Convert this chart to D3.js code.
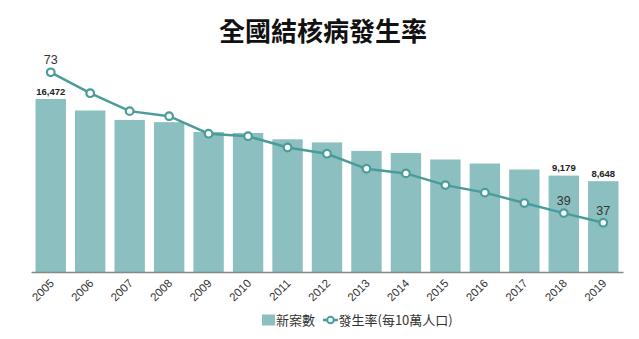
<!DOCTYPE html>
<html><head><meta charset="utf-8">
<script src="https://cdn.jsdelivr.net/npm/d3@7"></script>
<style>
html,body{margin:0;padding:0;background:#fff;}
svg{display:block;}
</style></head>
<body>
<svg id="chart" width="639" height="339"></svg>
<script>
const years = ["2005","2006","2007","2008","2009","2010","2011","2012","2013","2014","2015","2016","2017","2018","2019"];
const newCases = [16472,15378,14480,14265,13336,13237,12634,12338,11528,11326,10711,10328,9759,9179,8648];
const incidence = [73,68,63.7,62.5,58.3,57.7,55,53.5,49.9,48.8,46,44.2,41.7,39.3,37];
const caseLabelYears = ["2005","2018","2019"];
const rateLabelYears = ["2005","2018","2019"];
const title = "全國結核病發生率";
const legendLabels = ["新案數","發生率(每10萬人口)"];

const barColor = "#8bbfc0", lineColor = "#4a9c9b";
const svg = d3.select("#chart");
const cjk = "'Noto Sans CJK TC','Noto Sans CJK SC',sans-serif";
const latin = "'Liberation Sans',Arial,sans-serif";

const x = d3.scaleBand().domain(years).range([31, 623]).paddingInner(0.23).paddingOuter(0.115);
const y = d3.scaleLinear().domain([0, 18000]).range([272, 272 - 18000 * 173 / 16472]);
const yr = d3.scaleLinear().domain([30, 80]).range([72.3 + 43 * 4.178, 72.3 - 7 * 4.178]);

svg.append("text").attr("x", 323).attr("y", 41).attr("text-anchor", "middle")
  .attr("font-family", cjk).attr("font-weight", 700).attr("font-size", 26).attr("fill", "#111").text(title);

svg.append("g").selectAll("rect").data(years).join("rect")
  .attr("x", d => x(d)).attr("width", x.bandwidth())
  .attr("y", (d, i) => y(newCases[i])).attr("height", (d, i) => y(0) - y(newCases[i]))
  .attr("fill", barColor);

const xAxis = svg.append("g").attr("transform", "translate(0,272)")
  .call(d3.axisBottom(x).tickSize(0).tickSizeOuter(0));
xAxis.select(".domain").attr("stroke", "#888").attr("stroke-width", 1.5);
xAxis.selectAll("text").attr("font-family", latin).attr("font-size", 11.5).attr("fill", "#333")
  .attr("text-anchor", "end").attr("dy", null).attr("y", 0)
  .attr("transform", "translate(4,12) rotate(-45)");

svg.append("g").selectAll("text").data(years.filter(d => caseLabelYears.includes(d))).join("text")
  .attr("x", d => x(d) + x.bandwidth() / 2)
  .attr("y", d => y(newCases[years.indexOf(d)]) - 4.5)
  .attr("text-anchor", "middle").attr("font-family", latin).attr("font-weight", 700)
  .attr("font-size", 9.5).attr("fill", "#222")
  .text(d => d3.format(",")(newCases[years.indexOf(d)]));

const line = d3.line().x((d, i) => x(years[i]) + x.bandwidth() / 2).y(d => yr(d));
svg.append("path").datum(incidence).attr("d", line).attr("fill", "none")
  .attr("stroke", lineColor).attr("stroke-width", 2.5);
svg.append("g").selectAll("circle").data(incidence).join("circle")
  .attr("cx", (d, i) => x(years[i]) + x.bandwidth() / 2).attr("cy", d => yr(d)).attr("r", 3.8)
  .attr("fill", "#fff").attr("stroke", lineColor).attr("stroke-width", 2.2);

svg.append("g").selectAll("text").data(years.filter(d => rateLabelYears.includes(d))).join("text")
  .attr("x", d => x(d) + x.bandwidth() / 2)
  .attr("y", d => yr(incidence[years.indexOf(d)]) - 8)
  .attr("text-anchor", "middle").attr("font-family", latin).attr("font-size", 12.5).attr("fill", "#333")
  .text(d => d3.format(".0f")(incidence[years.indexOf(d)]));

const lg = svg.append("g").attr("font-family", cjk).attr("font-size", 13).attr("fill", "#333");
lg.append("rect").attr("x", 262).attr("y", 314.5).attr("width", 13).attr("height", 11).attr("fill", barColor);
lg.append("text").attr("x", 276).attr("y", 325).text(legendLabels[0]);
lg.append("line").attr("x1", 323).attr("x2", 338).attr("y1", 320).attr("y2", 320)
  .attr("stroke", lineColor).attr("stroke-width", 2.5);
lg.append("circle").attr("cx", 330.5).attr("cy", 320).attr("r", 3.3).attr("fill", "#fff")
  .attr("stroke", lineColor).attr("stroke-width", 2);
lg.append("text").attr("x", 338.5).attr("y", 325).text(legendLabels[1]);
</script>
</body></html>
